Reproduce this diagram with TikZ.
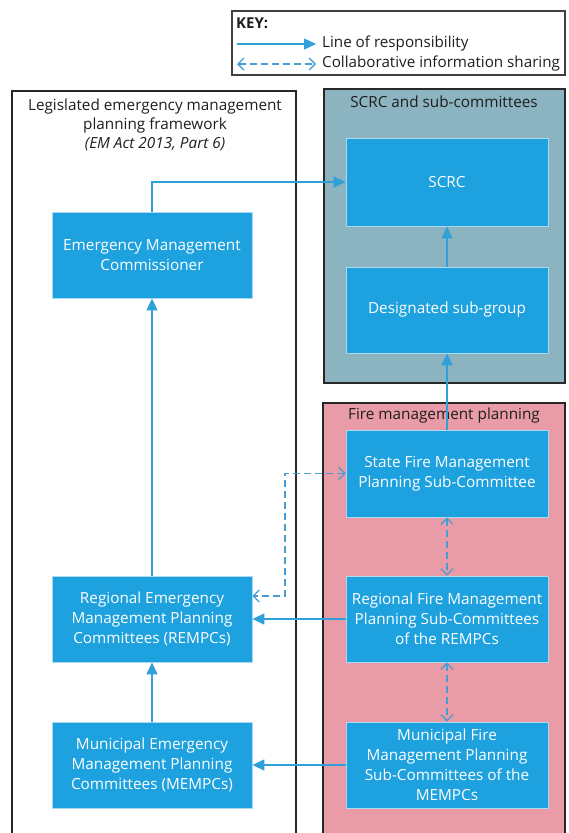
\documentclass[tikz,border=0pt]{standalone}
\usepackage{fontspec}
\setmainfont{Open Sans}
\usetikzlibrary{arrows.meta}
\definecolor{boxblue}{RGB}{29,161,223}
\definecolor{boxedge}{RGB}{170,218,242}
\definecolor{linkblue}{RGB}{48,160,216}
\definecolor{dashblue}{RGB}{72,157,212}
\definecolor{scrcfill}{RGB}{140,180,192}
\definecolor{firefill}{RGB}{233,155,167}
\definecolor{frameedge}{RGB}{40,40,40}
\definecolor{titletext}{RGB}{30,30,30}
\tikzset{
  box/.style={draw=boxedge, line width=0.8pt, fill=boxblue, text=white,
    minimum width=202pt, minimum height=86pt, align=center, inner sep=0pt,
    font=\fontsize{15.3}{20}\selectfont},
  frame/.style={draw=frameedge, line width=1.3pt},
  ftitle/.style={text=titletext, align=center, inner sep=0pt,
    font=\fontsize{15.3}{19}\selectfont},
  resp/.style={draw=linkblue, line width=1.4pt, -{Triangle[length=12pt,width=11pt]}},
  collab/.style={draw=dashblue, line width=1.3pt, dash pattern=on 7pt off 4pt,
    {Straight Barb[length=6pt,width=12pt]}-{Straight Barb[length=6pt,width=12pt]}},
  keytext/.style={anchor=west, inner sep=0pt, text=titletext, font=\fontsize{15.2}{18}\selectfont}
}
\begin{document}
\begin{tikzpicture}[x=1pt,y=-1pt]
\useasboundingbox (0,0) rectangle (568,833);
\clip (0,0) rectangle (568,833);
% key
\draw[frame, line width=1.2pt, draw=black!75] (232,11) rectangle (565,75);
\node[keytext, font=\fontsize{15}{18}\selectfont\bfseries] (keyhead) at (236,23) {KEY:};
\coordinate (k1a) at (237,44); \coordinate (k1b) at (316,44);
\coordinate (k2a) at (237,64); \coordinate (k2b) at (316,64);
\draw[resp] (k1a) -- (k1b);
\draw[collab] (k2a) -- (k2b);
\node[keytext] (key1) at (322,44) {Line of responsibility};
\node[keytext] (key2) at (322,64) {Collaborative information sharing};
% frames
\draw[frame] (12,91) rectangle (296,845);
\draw[frame, fill=scrcfill] (324,89) rectangle (565,383);
\draw[frame, fill=firefill] (323,403) rectangle (565,845);
\node[ftitle] (lefttitle) at (155,125) {Legislated emergency management\\planning framework\\\textit{(EM Act 2013, Part 6)}};
\node[ftitle] (scrctitle) at (444,102) {SCRC and sub-committees};
\node[ftitle] (firetitle) at (444,416) {Fire management planning};
% boxes
\node[box, minimum width=200pt] (emc) at (152,255) {Emergency Management\\Commissioner};
\node[box, minimum width=200pt] (rempc) at (152,619) {Regional Emergency\\Management Planning\\Committees (REMPCs)};
\node[box, minimum width=200pt] (mempc) at (152,765) {Municipal Emergency\\Management Planning\\Committees (MEMPCs)};
\node[box, minimum height=88pt] (scrc) at (447,182) {SCRC};
\node[box] (desg) at (447,310) {Designated sub-group};
\node[box, minimum height=87pt] (state) at (447,473.5) {State Fire Management\\Planning Sub-Committee};
\node[box] (rfmp) at (447,619) {Regional Fire Management\\Planning Sub-Committees\\of the REMPCs};
\node[box] (mfmp) at (447,765) {Municipal Fire\\Management Planning\\Sub-Committees of the\\MEMPCs};
% connectors
\draw[resp] (emc.north) |- (scrc.west);
\draw[resp] (desg.north) -- (scrc.south);
\draw[resp] (state.north) -- (desg.south);
\draw[resp] (rempc.north) -- (emc.south);
\draw[resp] (mempc.north) -- (rempc.south);
\draw[resp] (rfmp.west) -- (rempc.east);
\draw[resp] (mfmp.west) -- (mempc.east);
\coordinate (bend) at (285,596);
\draw[collab] (state.west) -| (bend) |- ([yshift=23pt]rempc.east);
\draw[collab] (state.south) -- (rfmp.north);
\draw[collab] (rfmp.south) -- (mfmp.north);
\end{tikzpicture}
\end{document}
